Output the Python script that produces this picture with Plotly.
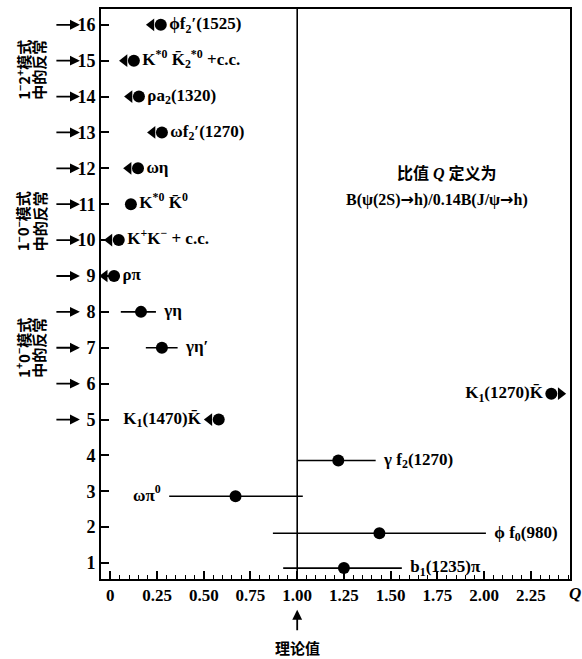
import numpy as np
import plotly.graph_objects as go

# ---------------- data ----------------
labels = [
    "ϕf<sub>2</sub>′(1525)",
    "K<sup>*0</sup> K̄<sub>2</sub><sup>*0</sup> +c.c.",
    "ρa<sub>2</sub>(1320)",
    "ωf<sub>2</sub>′(1270)",
    "ωη",
    "K<sup>*0</sup> K̄<sup>0</sup>",
    "K<sup>+</sup>K<sup>−</sup> + c.c.",
    "ρπ",
    "γη",
    "γη′",
    "K<sub>1</sub>(1470)K̄",
    "K<sub>1</sub>(1270)K̄",
    "γ f<sub>2</sub>(1270)",
    "ωπ<sup>0</sup>",
    "ϕ f<sub>0</sub>(980)",
    "b<sub>1</sub>(1235)π",
]
q_values = [0.27, 0.126, 0.153, 0.276, 0.148, 0.11, 0.045, 0.02, 0.164, 0.276,
            0.58, 2.36, 1.22, 0.67, 1.44, 1.25]
y_rows = [16, 15, 14, 13, 12, 11, 10, 9, 8, 7, 5, 5.72, 3.86, 2.86, 1.83, 0.86]
q_low = [None, None, None, None, None, None, None, None, 0.056, 0.19,
         None, None, 1.0, 0.315, 0.87, 0.925]
q_high = [None, None, None, None, None, None, None, None, 0.244, 0.36,
          None, None, 1.42, 1.03, 2.01, 1.56]
limit = ["upper", "upper", "upper", "upper", "upper", "", "upper", "upper", "", "",
         "upper", "lower", "", "", "", ""]
label_side = ["right"] * 10 + ["left", "left", "right", "left", "right", "right"]

y_ticks = list(range(1, 17))
arrow_rows = list(range(5, 17))
x_tick_vals = [0, 0.25, 0.5, 0.75, 1.0, 1.25, 1.5, 1.75, 2.0, 2.25]
x_tick_text = ["0", "0.25", "0.50", "0.75", "1.00", "1.25", "1.50", "1.75", "2.00", "2.25"]
theory_value = 1.0

group_line1 = ["1<sup>−</sup>2<sup>+</sup>模式", "1<sup>−</sup>0<sup>−</sup>模式",
               "1<sup>+</sup>0<sup>−</sup>模式"]
group_line2 = ["中的反常", "中的反常", "中的反常"]
group_y = [14.75, 10.53, 7.0]

# ---------------- figure ----------------
SERIF = "Liberation Serif, Times New Roman, Noto Sans CJK SC, serif"
CJK = "Noto Sans CJK SC, Liberation Serif, serif"
X_RANGE = [-0.05, 2.46]
Y_RANGE = [0.556, 16.44]

fig = go.Figure()

# error bars + dots
plus = [(h - q) if h is not None else 0 for q, h in zip(q_values, q_high)]
minus = [(q - l) if l is not None else 0 for q, l in zip(q_values, q_low)]
fig.add_trace(go.Scatter(
    x=q_values, y=y_rows, mode="markers",
    marker=dict(color="black", size=12),
    error_x=dict(type="data", array=plus, arrayminus=minus, symmetric=False,
                 color="black", thickness=1.6, width=0),
    showlegend=False, cliponaxis=False, hoverinfo="skip",
))

# limit arrows
ARROW_OFF = 0.05
ux = [q - ARROW_OFF for q, l in zip(q_values, limit) if l == "upper"]
uy = [y for y, l in zip(y_rows, limit) if l == "upper"]
lx = [q + ARROW_OFF for q, l in zip(q_values, limit) if l == "lower"]
ly = [y for y, l in zip(y_rows, limit) if l == "lower"]
fig.add_trace(go.Scatter(x=ux, y=uy, mode="markers",
                         marker=dict(symbol="triangle-left", color="black", size=11,
                                     line=dict(width=0)),
                         showlegend=False, cliponaxis=False, hoverinfo="skip"))
fig.add_trace(go.Scatter(x=lx, y=ly, mode="markers",
                         marker=dict(symbol="triangle-right", color="black", size=11,
                                     line=dict(width=0)),
                         showlegend=False, cliponaxis=False, hoverinfo="skip"))

# labels
lab_x, lab_pos = [], []
for q, lo, hi, lim, side in zip(q_values, q_low, q_high, limit, label_side):
    if side == "right":
        lab_x.append((hi if hi is not None else q) + 0.045)
        lab_pos.append("middle right")
    else:
        if lo is not None:
            base = lo
        elif lim == "upper":
            base = q - ARROW_OFF
        else:
            base = q
        lab_x.append(base - 0.045)
        lab_pos.append("middle left")
fig.add_trace(go.Scatter(
    x=lab_x, y=y_rows, mode="text", text=labels, textposition=lab_pos,
    textfont=dict(family=SERIF, size=17, color="black", weight="bold"),
    showlegend=False, cliponaxis=False, hoverinfo="skip",
))

# vertical theory line
fig.add_shape(type="line", xref="x", yref="paper", x0=theory_value, x1=theory_value,
              y0=0, y1=1, line=dict(color="black", width=1.6))

annotations = []
# arrows next to y tick labels
for r in arrow_rows:
    annotations.append(dict(xref="paper", yref="y", x=-0.045, y=r, ax=-25, ay=0,
                            showarrow=True, arrowhead=2, arrowsize=1.1, arrowwidth=1.8,
                            arrowcolor="black", text=""))
# group labels (two rotated columns)
for t1, t2, gy in zip(group_line1, group_line2, group_y):
    annotations.append(dict(xref="paper", yref="y", x=-0.168, y=gy, text=t1,
                            xanchor="center", yanchor="middle",
                            textangle=-90, showarrow=False,
                            font=dict(family=CJK, size=15, color="black", weight="bold")))
    annotations.append(dict(xref="paper", yref="y", x=-0.132, y=gy, text=t2,
                            xanchor="center", yanchor="middle",
                            textangle=-90, showarrow=False,
                            font=dict(family=CJK, size=15, color="black", weight="bold")))
# definition text
ARW = "<span style=\"font-family:'DejaVu Sans'\">→</span>"
annotations.append(dict(xref="paper", yref="paper", x=0.738, y=0.7115,
                        xanchor="center", yanchor="middle",
                        text="比值 <i>Q</i> 定义为", showarrow=False,
                        font=dict(family=SERIF, size=16, color="black", weight="bold")))
annotations.append(dict(xref="paper", yref="paper", x=0.716, y=0.666,
                        xanchor="center", yanchor="middle",
                        text="B(ψ(2S)" + ARW + "h)/0.14B(J/ψ" + ARW + "h)", showarrow=False,
                        font=dict(family=SERIF, size=16, color="black", weight="bold")))
# theory arrow and label
annotations.append(dict(xref="x", yref="paper", x=theory_value, y=-0.054, ax=0, ay=22,
                        showarrow=True, arrowhead=2, arrowsize=1.1, arrowwidth=1.8,
                        arrowcolor="black", text=""))
annotations.append(dict(xref="x", yref="paper", x=theory_value, y=-0.121,
                        xanchor="center", yanchor="middle",
                        text="理论值", showarrow=False,
                        font=dict(family=CJK, size=15, color="black", weight="bold")))
# Q axis label
annotations.append(dict(xref="paper", yref="paper", x=1.01, y=-0.025,
                        xanchor="center", yanchor="middle",
                        text="<i>Q</i>", showarrow=False,
                        font=dict(family=SERIF, size=17, color="black", weight="bold")))

minor_vals = [round(v, 2) for v in np.arange(0, 2.451, 0.05)]

fig.update_layout(
    width=582, height=659,
    margin=dict(l=101, r=12, t=7, b=80),
    paper_bgcolor="white", plot_bgcolor="white",
    annotations=annotations,
    hovermode=False,
    xaxis=dict(range=X_RANGE, tickmode="array", tickvals=x_tick_vals, ticktext=x_tick_text,
               ticks="inside", ticklen=8, tickwidth=1.5, tickcolor="black",
               minor=dict(tickmode="array", tickvals=minor_vals, ticks="inside",
                          ticklen=4, tickwidth=1.2, tickcolor="black"),
               showline=True, linecolor="black", linewidth=2, mirror=True,
               showgrid=False, zeroline=False,
               tickfont=dict(family=SERIF, size=17, color="black", weight="bold")),
    yaxis=dict(range=Y_RANGE, tickmode="array", tickvals=y_ticks,
               ticks="inside", ticklen=8, tickwidth=1.5, tickcolor="black",
               showline=True, linecolor="black", linewidth=2, mirror=True,
               showgrid=False, zeroline=False,
               tickfont=dict(family=SERIF, size=18, color="black", weight="bold")),
)

fig.write_html("out.html", config={"displayModeBar": False},
               post_script="document.body.style.margin='0px';document.body.style.overflow='hidden';")
